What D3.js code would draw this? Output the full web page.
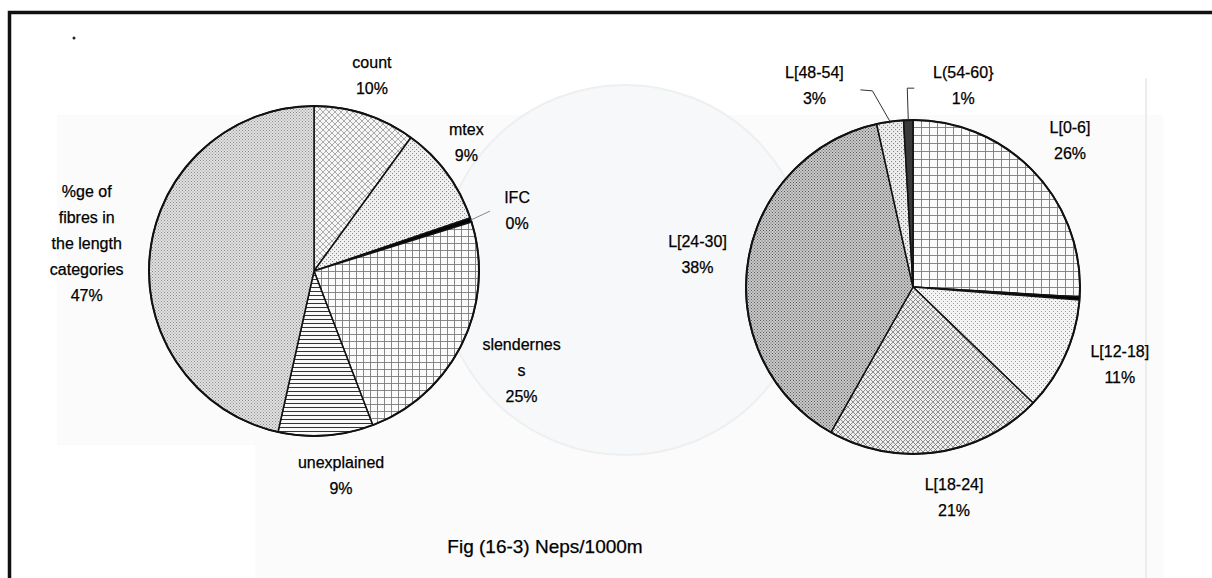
<!DOCTYPE html>
<html>
<head>
<meta charset="utf-8">
<script src="https://cdn.jsdelivr.net/npm/d3@7/dist/d3.min.js"></script>
<style>
  html, body { margin: 0; padding: 0; background: #fff; }
  svg text { font-family: "Liberation Sans", Arial, sans-serif; fill: #000; stroke: #000; stroke-width: 0.25px; }
</style>
</head>
<body>
<svg id="chart" width="1212" height="578"></svg>
<script>
// ---------- DATA ----------
const leftCategories = ["count", "mtex", "IFC", "slenderness", "unexplained", "%ge of fibres in the length categories"];
const leftValues = [10, 9.8, 0.4, 24, 9.3, 46.5];
const leftLabels = [["count", "10%"], ["mtex", "9%"], ["IFC", "0%"], ["slendernes", "s", "25%"], ["unexplained", "9%"], ["%ge of", "fibres in", "the length", "categories", "47%"]];

const rightCategories = ["L[0-6]", "L[6-12]", "L[12-18]", "L[18-24]", "L[24-30]", "L[48-54]", "L(54-60)"];
const rightValues = [26, 0.3, 11, 21, 38.4, 2.6, 0.9];
const rightLabels = [["L[0-6]", "26%"], null, ["L[12-18]", "11%"], ["L[18-24]", "21%"], ["L[24-30]", "38%"], ["L[48-54]", "3%"], ["L(54-60}", "1%"]];

const caption = "Fig (16-3) Neps/1000m";

// ---------- LAYOUT / STYLE ----------
const svg = d3.select("#chart");
const W = 1212, H = 578;
const leftPie = { cx: 314, cy: 271, r: 165 };
const rightPie = { cx: 913, cy: 287, r: 167 };
// label placement: [angle offset (deg), distance from centre]
const leftLabelPos = [[-1.5, 204], [-3.7, 199], [1.3, 212], [-0.4, 230], [-3.4, 206], [0.7, 229]];
const rightLabelPos = [[0.2, 215], null, [-3.6, 221], [-2.8, 214], [0.2, 218], [-18.2, 224], [15.6, 208]];
const leftFills = ["url(#pCross)", "url(#pDotsMid)", "#000", "url(#pGrid7)", "url(#pHoriz)", "url(#pDotsFine)"];
const rightFills = ["url(#pGrid8)", "#000", "url(#pDotsLight)", "url(#pCrossFine)", "url(#pDotsDense)", "url(#pDotsLight2)", "#3a3a3a"];
const lineH = 26, fontSize = 16;

// ---------- PATTERNS ----------
const defs = svg.append("defs");
function pat(id, size, bg) {
  const p = defs.append("pattern").attr("id", id).attr("patternUnits", "userSpaceOnUse")
    .attr("width", size).attr("height", size);
  p.append("rect").attr("width", size).attr("height", size).attr("fill", bg);
  return p;
}
function dots(id, size, bg, col, ds) {
  const p = pat(id, size, bg);
  p.append("rect").attr("x", 0).attr("y", 0).attr("width", ds).attr("height", ds).attr("fill", col);
  p.append("rect").attr("x", size / 2).attr("y", size / 2).attr("width", ds).attr("height", ds).attr("fill", col);
}
dots("pDotsFine", 3, "#e2e2e2", "#8a8a8a", 1);
dots("pDotsMid", 4, "#f2f2f2", "#8a8a8a", 1.1);
dots("pDotsLight", 4, "#f4f4f4", "#9a9a9a", 1);
dots("pDotsLight2", 4, "#eeeeee", "#888", 1.1);
dots("pDotsDense", 3, "#cacaca", "#5a5a5a", 1);
(function () {
  const p = pat("pCross", 6, "#f6f6f6");
  p.append("path").attr("d", "M0,0L6,6M6,0L0,6").attr("stroke", "#8a8a8a").attr("stroke-width", 0.7);
  const q = pat("pCrossFine", 5, "#eeeeee");
  q.append("path").attr("d", "M0,0L5,5M5,0L0,5").attr("stroke", "#666").attr("stroke-width", 0.7);
  const g7 = pat("pGrid7", 7, "#fbfbfb");
  g7.append("path").attr("d", "M0,0.5H7M0.5,0V7").attr("stroke", "#7a7a7a").attr("stroke-width", 0.9);
  const g8 = pat("pGrid8", 8, "#fbfbfb");
  g8.append("path").attr("d", "M0,0.5H8M0.5,0V8").attr("stroke", "#7a7a7a").attr("stroke-width", 0.9);
  const hz = pat("pHoriz", 4, "#fafafa");
  hz.append("path").attr("d", "M0,0.5H4").attr("stroke", "#333").attr("stroke-width", 1);
})();

// ---------- BACKGROUND (faint scan ghost) ----------
svg.append("rect").attr("width", W).attr("height", H).attr("fill", "#fff");
svg.append("rect").attr("x", 57).attr("y", 115).attr("width", 1106).attr("height", 330).attr("fill", "#fbfbfb");
svg.append("rect").attr("x", 255).attr("y", 445).attr("width", 908).attr("height", 133).attr("fill", "#fbfbfb");
svg.append("circle").attr("cx", 625).attr("cy", 270).attr("r", 185)
  .attr("fill", "#f7f8f9").attr("stroke", "#eeeff0").attr("stroke-width", 2);
svg.append("line").attr("x1", 1146).attr("x2", 1146).attr("y1", 78).attr("y2", 578)
  .attr("stroke", "#ececec").attr("stroke-width", 2);

// ---------- FRAME ----------
svg.append("path").attr("d", "M9.5,578V12.5H1212").attr("fill", "none")
  .attr("stroke", "#111").attr("stroke-width", 3.5);
svg.append("circle").attr("cx", 74).attr("cy", 38).attr("r", 1.5).attr("fill", "#222");

// ---------- PIES ----------
function drawPie(cfg, cats, vals, labels, labelPos, fills, leaders) {
  const pie = d3.pie().sort(null).value(d => d.v);
  const arcs = pie(cats.map((c, i) => ({ c, v: vals[i], i })));
  const arc = d3.arc().innerRadius(0).outerRadius(cfg.r);
  const g = svg.append("g").attr("transform", `translate(${cfg.cx},${cfg.cy})`);
  g.selectAll("path.slice").data(arcs).join("path").attr("class", "slice")
    .attr("d", arc).attr("fill", (d, i) => fills[i])
    .attr("stroke", "#111").attr("stroke-width", 1.5).attr("stroke-linejoin", "round");
  g.append("circle").attr("r", cfg.r).attr("fill", "none").attr("stroke", "#111").attr("stroke-width", 2);

  const polar = (a, rr) => [rr * Math.sin(a), -rr * Math.cos(a)];
  arcs.forEach((d, i) => {
    if (!labels[i]) return;
    const mid = (d.startAngle + d.endAngle) / 2;
    const lp = labelPos[i];
    const [x, y] = polar(mid + lp[0] * Math.PI / 180, lp[1]);
    const lines = labels[i];
    const t = g.append("text").attr("text-anchor", "middle").attr("font-size", fontSize);
    lines.forEach((s, k) => {
      t.append("tspan").attr("x", x).attr("y", y - (lines.length - 1) * lineH / 2 + k * lineH + 5.5).text(s);
    });
    const ld = leaders[i];
    if (ld) {
      const edge = polar(mid, cfg.r);
      const pts = ld.map(p => [x + p[0], y + p[1]]).concat([edge]);
      g.append("path").attr("d", d3.line()(pts)).attr("fill", "none")
        .attr("stroke", ld.color || "#333").attr("stroke-width", 1);
    }
  });
}

const leftLeaders = [null, null, Object.assign([[-27, 1]], { color: "#888" }), null, null, null];
const rightLeaders = [null, null, null, null, null, [[46, 4], [58, 5]], [[-49, 3], [-56, 3]]];

drawPie(leftPie, leftCategories, leftValues, leftLabels, leftLabelPos, leftFills, leftLeaders);
drawPie(rightPie, rightCategories, rightValues, rightLabels, rightLabelPos, rightFills, rightLeaders);

// ---------- CAPTION ----------
svg.append("text").attr("x", 545).attr("y", 553).attr("text-anchor", "middle")
  .attr("font-size", 19).text(caption);
</script>
</body>
</html>
